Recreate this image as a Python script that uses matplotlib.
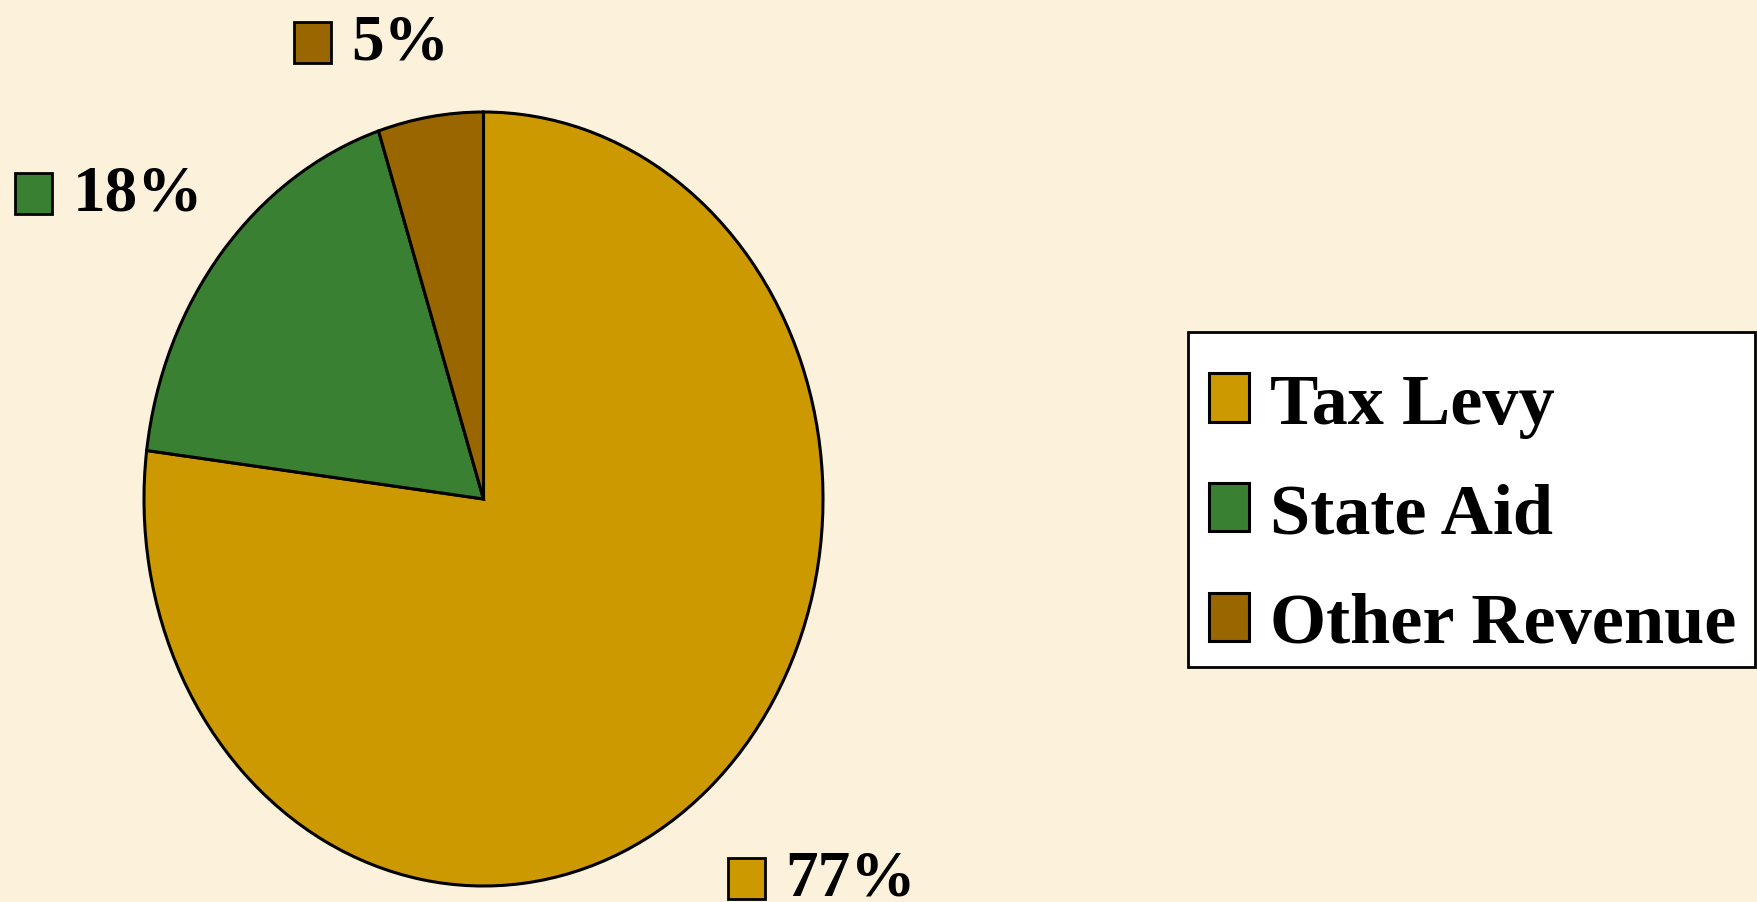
import matplotlib
matplotlib.use("Agg")
import matplotlib.pyplot as plt
from matplotlib.patches import Rectangle
from matplotlib.offsetbox import AnnotationBbox, HPacker, DrawingArea, TextArea

# revenue shares
categories = ['Tax Levy', 'State Aid', 'Other Revenue']
shares = [77, 18, 5]
colors = ['#CC9900', '#3A8032', '#996600']

# where the % labels sit (pie units, centre of label block)
label_pos = [(0.995, -0.98), (-1.105, 0.79), (-0.33, 1.18)]

W, H = 1758, 903
bg = '#FCF2DC'
serif = ['Liberation Serif', 'DejaVu Serif']

fig = plt.figure(figsize=(W / 100, H / 100), dpi=100, facecolor=bg)

# pie drawn stretched, like the original (taller than wide)
ax = fig.add_axes([144 / W, (H - 887) / H, 679 / W, 774 / H])
wedges, _ = ax.pie(shares, colors=colors, startangle=90, counterclock=False,
                   wedgeprops=dict(edgecolor='black', linewidth=2.2))
ax.set_aspect('auto')
ax.set_xlim(-1, 1)
ax.set_ylim(-1, 1)
ax.axis('off')

for w, v, pos in zip(wedges, shares, label_pos):
    da = DrawingArea(28, 31, 0, 0)
    da.add_artist(Rectangle((0.8, 0.8), 26.4, 29.4, facecolor=w.get_facecolor(),
                            edgecolor='black', linewidth=2))
    ta = TextArea(f'{v}%', textprops=dict(fontsize=47, fontweight='bold',
                                          family=serif, color='black'))
    box = HPacker(children=[da, ta], align='center', pad=0, sep=14)
    ab = AnnotationBbox(box, pos, xycoords='data', frameon=False,
                        box_alignment=(0.5, 0.5), annotation_clip=False)
    ax.add_artist(ab)

# legend box drawn on its own so the rows can sit like the original
fig.patches.append(Rectangle((1188 / W, 1 - 668 / H), 567 / W, 335 / H,
                             transform=fig.transFigure, facecolor='white',
                             edgecolor='black', linewidth=2, zorder=1))
leg = fig.legend(wedges, categories, loc='upper left',
                 bbox_to_anchor=(1180 / W, 1 - 345 / H), bbox_transform=fig.transFigure,
                 borderaxespad=0, frameon=False,
                 prop=dict(family=serif, weight='bold', size=52),
                 handlelength=0.55, handleheight=0.65, handletextpad=0.3,
                 labelspacing=0.62, borderpad=0.4)
leg.set_zorder(3)

fig.savefig('out.png', dpi=100, facecolor=bg)
